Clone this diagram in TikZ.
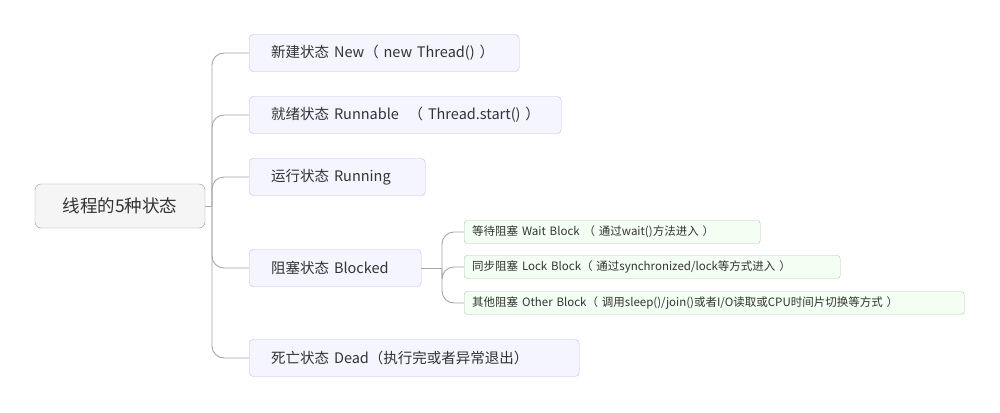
\documentclass[tikz,border=0pt]{standalone}
\usepackage{fontspec}
\setmainfont{Noto Sans CJK SC}
\begin{document}
\begin{tikzpicture}[x=1pt,y=-1pt,
  line/.style={draw=black!35,line width=0.9pt,rounded corners=12},
  br/.style={draw=black!35!blue!25!white,fill=blue!4,rounded corners=4,anchor=west,inner xsep=0pt,inner ysep=0pt,minimum height=37pt,font=\fontsize{14.5}{16}\selectfont,text=black!80,align=left},
  sub/.style={draw=green!25!black!30,fill=green!5,rounded corners=3,anchor=west,inner xsep=0pt,inner ysep=0pt,minimum height=23pt,font=\fontsize{11.5}{13}\selectfont,text=black!80,align=left}]
\useasboundingbox (0,0) rectangle (1000,412);
\fill[white] (0,0) rectangle (1000,412);
\node[draw=black!40,fill=black!4,rounded corners=6,minimum width=170pt,minimum height=44pt,font=\fontsize{17.5}{19}\selectfont,text=black!80] (root) at (120,206) {线程的5种状态};
\node[br,text width=254pt,minimum width=270pt] (new) at (249,53) {\hspace*{14pt}新建状态 New（ new Thread() ）};
\node[br,text width=296pt,minimum width=312pt] (run) at (249,115) {\hspace*{14pt}就绪状态 Runnable \ （ Thread.start() ）};
\node[br,text width=160pt,minimum width=176pt] (ing) at (249,177) {\hspace*{14pt}运行状态 Running};
\node[br,text width=156pt,minimum width=172pt] (blk) at (249,268) {\hspace*{14pt}阻塞状态 Blocked};
\node[br,text width=314pt,minimum width=330pt] (dead) at (249,358) {\hspace*{14pt}死亡状态 Dead（执行完或者异常退出）};
\node[sub,text width=288pt,minimum width=296pt] (w) at (464,232) {\hspace*{4pt}等待阻塞 Wait Block （ 通过wait()方法进入 ）};
\node[sub,text width=368pt,minimum width=376pt] (l) at (464,267) {\hspace*{4pt}同步阻塞 Lock Block（ 通过synchronized/lock等方式进入 ）};
\node[sub,text width=492pt,minimum width=500pt] (o) at (464,303) {\hspace*{4pt}其他阻塞 Other Block（ 调用sleep()/join()或者I/O读取或CPU时间片切换等方式 ）};
\coordinate (t) at (212,206);
\coordinate (s) at (442,268);
\draw[line] (root.east) -- (t);
\foreach \n in {new,run,ing,blk,dead} \draw[line] (t) |- (\n.west);
\draw[line] (blk.east) -- (s);
\foreach \n in {w,l,o} \draw[line] (s) |- (\n.west);
\end{tikzpicture}
\end{document}
